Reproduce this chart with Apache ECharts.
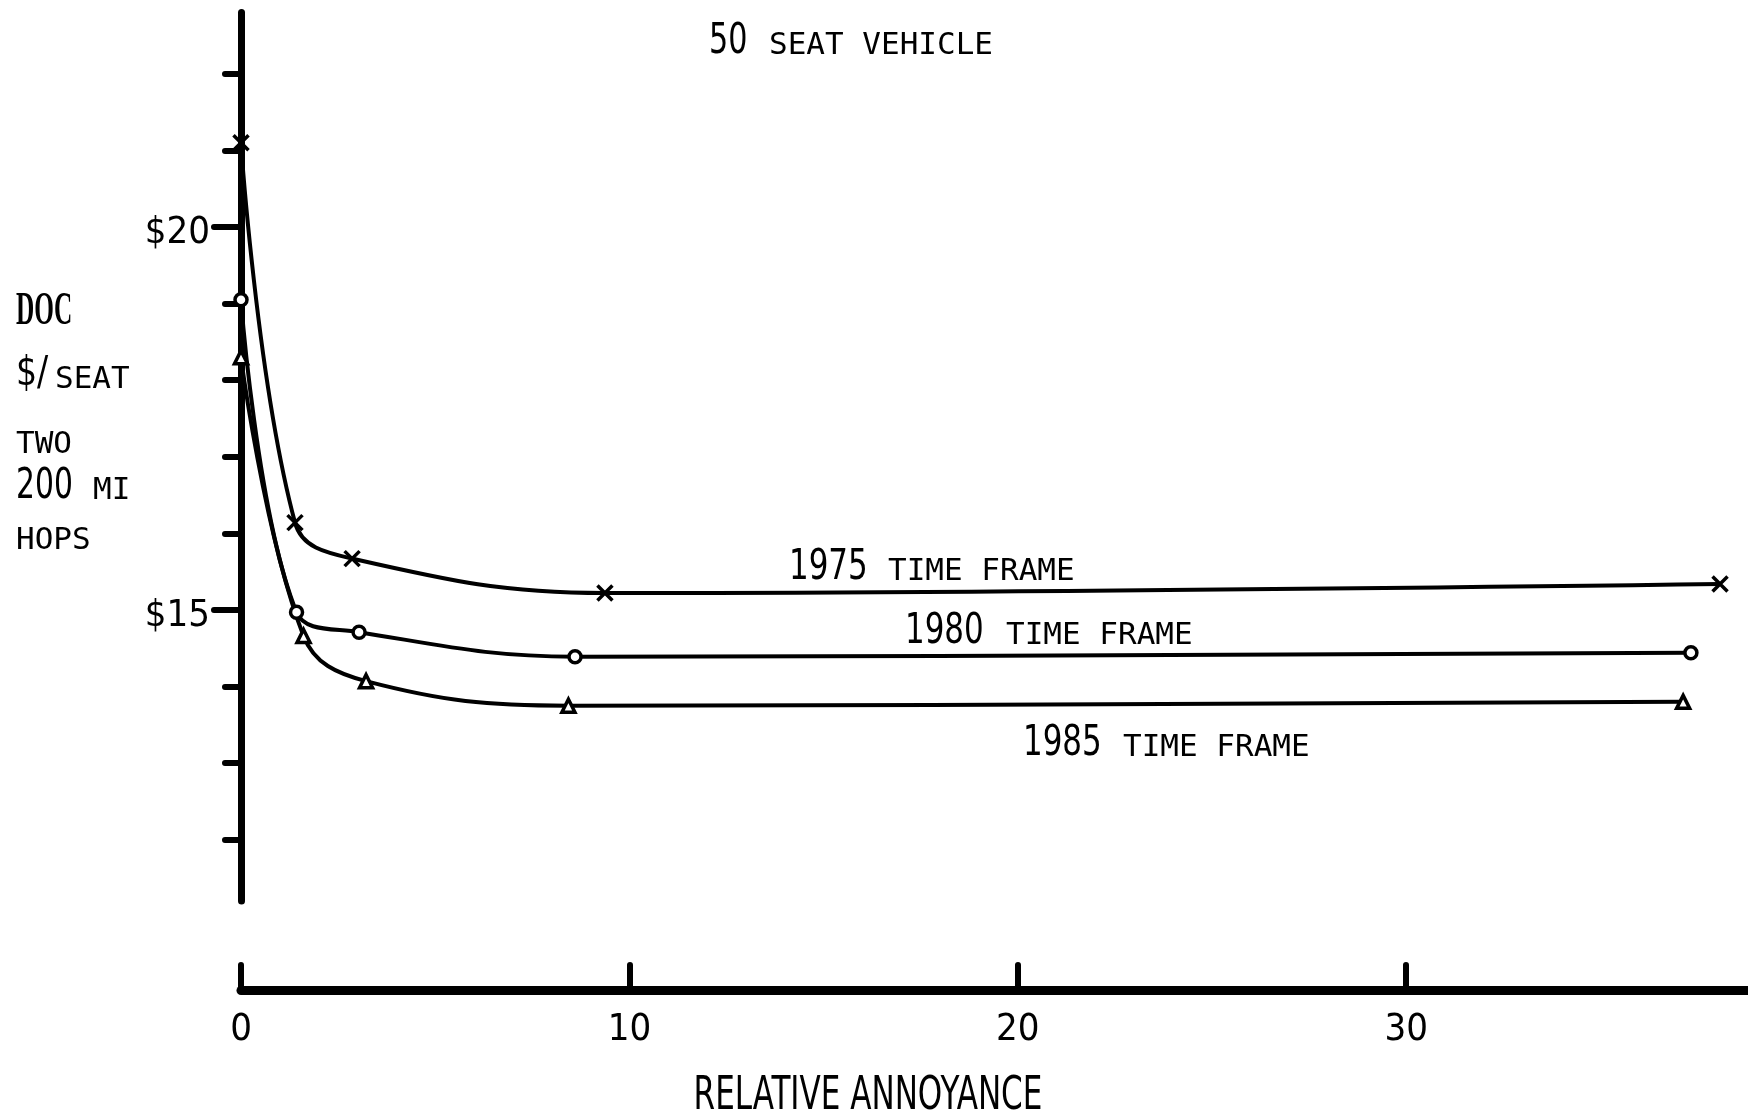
<!DOCTYPE html>
<html>
<head>
<meta charset="utf-8">
<title>50 Seat Vehicle - DOC vs Relative Annoyance</title>
<script src="https://cdn.jsdelivr.net/npm/echarts@6/dist/echarts.min.js"></script>
<style>
  html, body { margin: 0; padding: 0; background: #fff; }
  #chart { width: 1748px; height: 1115px; }
</style>
</head>
<body>
<div id="chart"></div>
<script>
// Relative annoyance (x) and direct operating cost, $/seat (y), per time frame
const annoyance1975 = [0, 1.39, 2.86, 9.37, 38.08];
const doc1975       = [21.10, 16.14, 15.67, 15.22, 15.34];
const annoyance1980 = [0, 1.43, 3.04, 8.60, 37.33];
const doc1980       = [19.05, 14.97, 14.71, 14.39, 14.44];
const annoyance1985 = [0, 1.61, 3.22, 8.43, 37.13];
const doc1985       = [18.30, 14.66, 14.07, 13.75, 13.80];

const seriesNames = ['1975 TIME FRAME', '1980 TIME FRAME', '1985 TIME FRAME'];

// Axis ticks and labels
const xTickValues = [0, 10, 20, 30];
const yTickValues = [12, 13, 14, 15, 16, 17, 18, 19, 20, 21, 22];
const yLabelValues = [15, 20];

const NARROW = "'Liberation Sans Narrow', 'DejaVu Sans Condensed', sans-serif";
const MONO = "'DejaVu Sans Mono', 'Liberation Mono', monospace";

function pairs(xs, ys) {
  return xs.map((x, i) => [x, ys[i]]);
}

// text placed by its left edge and baseline, optionally squeezed horizontally
function txt(str, x, baseline, size, family, extra) {
  extra = extra || {};
  return {
    type: 'text',
    x: x,
    y: baseline - 0.3 * size,
    scaleX: extra.scaleX || 1,
    silent: true,
    style: {
      text: str,
      font: (extra.weight || 'normal') + ' ' + size + 'px ' + family,
      fill: '#000',
      align: extra.align || 'left',
      textAlign: extra.align || 'left',
      verticalAlign: 'middle',
      textVerticalAlign: 'middle'
    }
  };
}

const crossPath = 'path://M0,0L10,10M10,0L0,10';

const chart = echarts.init(document.getElementById('chart'), null, { renderer: 'canvas' });

const lineStyle = { color: '#000', width: 4 };

chart.setOption({
  backgroundColor: '#fff',
  animation: false,
  grid: { left: 241, right: 0, top: 12.5, bottom: 214, containLabel: false },
  xAxis: {
    type: 'value',
    min: 0,
    max: 38.8,
    offset: 89,
    axisLine: { show: true, onZero: false, lineStyle: { color: '#000', width: 9 } },
    axisTick: {
      show: true, inside: true, length: 25, customValues: xTickValues,
      lineStyle: { color: '#000', width: 6, cap: 'round' }
    },
    axisLabel: {
      show: true, customValues: xTickValues, margin: 21,
      color: '#000', fontFamily: NARROW, fontSize: 38
    },
    splitLine: { show: false }
  },
  yAxis: [
    {
      type: 'value',
      min: 11.2,
      max: 22.8,
      position: 'left',
      axisLine: { show: true, onZero: false, lineStyle: { color: '#000', width: 7 } },
      axisTick: {
        show: true, inside: false, length: 16, customValues: yTickValues,
        lineStyle: { color: '#000', width: 6, cap: 'round' }
      },
      axisLabel: { show: false },
      splitLine: { show: false }
    },
    {
      type: 'value',
      min: 11.2,
      max: 22.8,
      position: 'left',
      offset: 0,
      axisLine: { show: false },
      axisTick: {
        show: true, inside: false, length: 27, customValues: yLabelValues,
        lineStyle: { color: '#000', width: 6, cap: 'round' }
      },
      axisLabel: {
        show: true, customValues: yLabelValues, margin: 31,
        color: '#000', fontFamily: NARROW, fontSize: 38,
        formatter: v => '{d|$' + v + '}',
        rich: {
          d: { fontFamily: NARROW, fontSize: 38, color: '#000', padding: [12, 0, 0, 0] }
        }
      },
      splitLine: { show: false }
    }
  ],
  series: [
    {
      name: seriesNames[0],
      type: 'line',
      clip: false,
      smooth: 0.4,
      data: pairs(annoyance1975, doc1975),
      symbol: crossPath,
      symbolSize: 15,
      lineStyle: lineStyle,
      itemStyle: { color: '#000', borderColor: '#000', borderWidth: 3.5 }
    },
    {
      name: seriesNames[1],
      type: 'line',
      clip: false,
      smooth: 0.4,
      data: pairs(annoyance1980, doc1980),
      symbol: 'circle',
      symbolSize: 12,
      lineStyle: lineStyle,
      itemStyle: { color: '#fff', borderColor: '#000', borderWidth: 3.5 }
    },
    {
      name: seriesNames[2],
      type: 'line',
      clip: false,
      smooth: 0.4,
      data: pairs(annoyance1985, doc1985),
      symbol: 'triangle',
      symbolSize: 13,
      lineStyle: lineStyle,
      itemStyle: { color: '#fff', borderColor: '#000', borderWidth: 3.5 }
    }
  ],
  graphic: [
    // title
    txt('50', 709, 55, 43, NARROW, { scaleX: 0.78 }),
    txt('SEAT VEHICLE', 769, 55, 31, MONO),
    // y-axis caption
    txt('DOC', 16, 326, 46, "'Liberation Serif', serif", { weight: 'bold', scaleX: 0.55 }),
    txt('$/', 16, 387, 41, NARROW, { scaleX: 0.9 }),
    txt('SEAT', 55, 389, 31, MONO),
    txt('TWO', 16, 454, 31, MONO),
    txt('200', 16, 500, 43, NARROW, { scaleX: 0.77 }),
    txt('MI', 93, 500, 31, MONO),
    txt('HOPS', 16, 550, 31, MONO),
    // series captions
    txt('1975', 789, 581, 43, NARROW, { scaleX: 0.8 }),
    txt('TIME FRAME', 888, 581, 31, MONO),
    txt('1980', 905, 645, 43, NARROW, { scaleX: 0.8 }),
    txt('TIME FRAME', 1006, 645, 31, MONO),
    txt('1985', 1023, 757, 43, NARROW, { scaleX: 0.8 }),
    txt('TIME FRAME', 1123, 757, 31, MONO),
    // x-axis caption
    txt('RELATIVE ANNOYANCE', 868, 1111, 46, NARROW, { align: 'center', scaleX: 0.75 })
  ]
});
</script>
</body>
</html>
